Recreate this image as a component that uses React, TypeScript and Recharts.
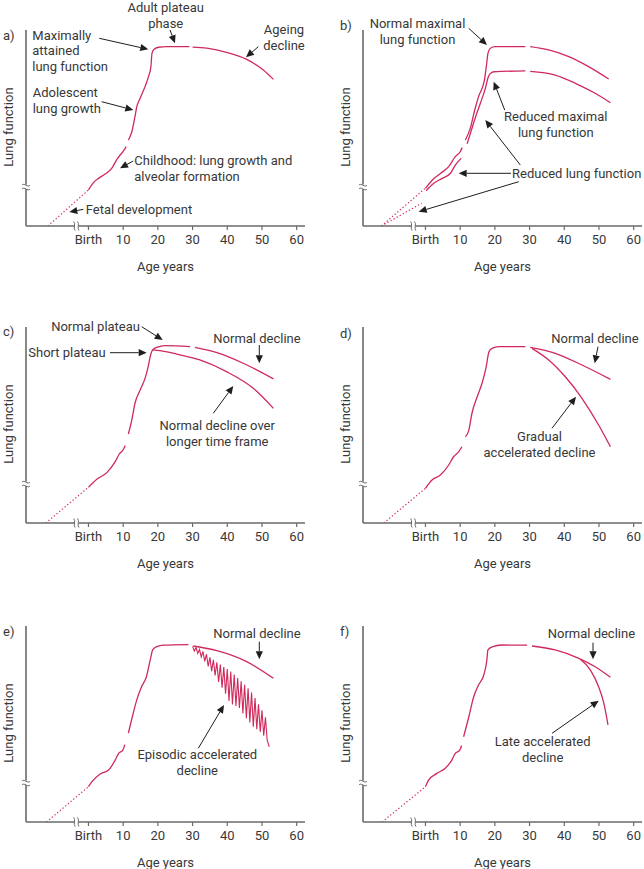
import React from 'react';
import { LineChart, Line, XAxis, YAxis, ReferenceLine, ReferenceDot } from 'recharts';

// ---------- tick labels ----------
const AGE_TICKS = [0, 10, 20, 30, 40, 50, 60];
const TICK_LABELS = ['Birth', '10', '20', '30', '40', '50', '60'];

// ---------- series values [age, lung function] ----------
// a)
const fetalA = [[-11.7, 0], [0, 18.4]];
const growthA = [[0, 18.4], [1.45, 22.1], [2.9, 24.3], [4.8, 26.5], [6.7, 29.4], [8.2, 34.0], [8.9, 35.7], [10.3, 38.8], [10.85, 40.5]];
const teenA = [[11.5, 43.9], [12.5, 48.1], [13.4, 55.8], [13.9, 60.6], [14.9, 65.2], [16.3, 71.1], [17.3, 76.2], [18.0, 81.3], [18.3, 88.1], [18.9, 90.2], [20.2, 91.2], [22.6, 91.5], [29.1, 91.5]];
const declineA = [[30.0, 91.3], [34.1, 90.7], [39.8, 88.6], [45.6, 85.0], [50.4, 79.6], [53.3, 74.8]];

// b)
const fetalB1 = [[-12.7, 0], [-0.1, 19.2]];
const fetalB2 = [[-12.7, 0], [-1.1, 11.6]];
const growthB1 = [[0, 19.2], [2.0, 23.5], [4.4, 26.9], [6.7, 30.3], [8.6, 35.4], [10.0, 37.9], [10.6, 40.0]];
const teenB1 = [[11.5, 43.9], [12.9, 49.8], [14.2, 59.2], [15.3, 66.0], [17.0, 74.5], [17.7, 83.8], [18.0, 88.1], [18.7, 90.7], [20.1, 91.5], [28.8, 91.5]];
const declineB1 = [[30.2, 91.5], [35.5, 89.8], [41.3, 86.4], [47.0, 81.3], [52.8, 75.0]];
const growthB2 = [[0.2, 18.0], [2.4, 21.8], [4.8, 24.3], [7.2, 26.9], [8.6, 31.1], [10.3, 34.5]];
const teenB2 = [[12.0, 42.0], [13.0, 47.5], [14.4, 55.5], [15.8, 62.5], [17.3, 70.5], [18.0, 75.5], [18.6, 77.6], [19.7, 78.7], [28.8, 79.1]];
const declineB2 = [[30.2, 78.9], [37.4, 77.0], [43.2, 72.8], [48.9, 67.7], [53.3, 62.9]];

// c)
const fetalC = [[-12.3, 0], [0, 18.2]];
const growthC = [[0, 18.2], [2.4, 22.3], [5.3, 25.7], [7.7, 31.3], [8.9, 35.2], [10.1, 37.6], [10.6, 39.5]];
const teenC = [[11.5, 45.4], [12.5, 52.6], [13.4, 61.1], [14.9, 67.9], [16.3, 73.8], [17.2, 79.7], [17.9, 85.7], [18.5, 88.3], [19.7, 89.6], [22.1, 90.5], [29.3, 90.0]];
const declineC = [[30.7, 89.6], [37.0, 86.9], [44.6, 81.5], [53.3, 73.5]];
const shortC = [[18.5, 88.3], [20.6, 87.9], [25.4, 86.2], [32.1, 83.2], [39.8, 77.2], [47.5, 68.7], [53.3, 58.5]];

// d)
const fetalD = [[-12.0, 0], [0, 17.7]];
const growthD = [[0, 17.7], [1.9, 21.9], [4.3, 24.5], [6.7, 29.6], [8.1, 33.8], [9.6, 36.4], [10.5, 38.9]];
const teenD = [[11.5, 44.0], [12.5, 47.4], [13.4, 56.0], [14.9, 64.4], [16.3, 71.3], [17.5, 79.7], [18.3, 87.4], [19.2, 89.1], [21.1, 90.0], [28.8, 90.0]];
const declineD = [[30.2, 89.6], [37.4, 86.6], [45.1, 80.6], [53.3, 73.3]];
const accelD = [[30.7, 89.1], [35.5, 83.2], [40.3, 74.6], [45.1, 63.6], [49.9, 50.0], [53.3, 38.9]];

// e)
const fetalE = [[-12.1, 0], [0, 18.0]];
const growthE = [[0, 18.0], [1.0, 20.6], [3.4, 24.5], [5.8, 26.5], [7.7, 31.6], [8.7, 35.0], [9.9, 36.7], [10.5, 39.5]];
const teenE = [[11.5, 45.3], [12.9, 55.5], [13.9, 62.2], [15.3, 69.0], [16.7, 74.1], [17.9, 83.5], [18.5, 87.8], [19.7, 89.5], [21.6, 90.2], [28.8, 90.5]];
const declineE = [[30.2, 89.8], [37.0, 87.4], [45.6, 81.8], [53.3, 73.3]];
const episodicE = [
  [30.0, 89.6], [30.5, 87.2], [31.0, 89.0], [31.5, 86.0], [32.0, 88.0], [32.5, 84.2], [33.0, 87.0], [33.5, 82.0],
  [34.0, 85.6], [34.5, 79.4], [35.0, 84.0], [35.5, 77.0], [36.0, 82.8], [36.5, 74.8], [37.0, 81.5], [37.5, 71.4],
  [38.0, 80.3], [38.5, 68.5], [39.0, 79.0], [39.5, 65.4], [40.0, 78.0], [40.5, 61.8], [41.0, 76.8], [41.5, 60.0],
  [42.0, 75.3], [42.5, 59.2], [43.0, 73.5], [43.5, 58.2], [44.0, 71.8], [44.5, 55.4], [45.0, 70.0], [45.5, 53.0],
  [46.0, 68.2], [46.5, 50.8], [47.0, 66.0], [47.5, 48.6], [48.0, 63.2], [48.5, 47.4], [49.0, 60.0], [49.5, 46.0],
  [50.0, 57.0], [50.5, 44.0], [51.0, 53.4], [51.5, 41.8], [52.1, 38.4],
];

// f)
const fetalF = [[-12.5, 0], [0, 18.0]];
const growthF = [[0, 18.0], [0.9, 21.4], [3.3, 24.8], [5.7, 27.4], [7.6, 31.6], [8.6, 35.0], [9.9, 36.7], [10.4, 39.0]];
const teenF = [[11.0, 43.5], [12.5, 53.7], [13.9, 63.9], [15.3, 69.9], [16.8, 75.0], [17.7, 82.7], [18.0, 87.8], [19.2, 89.4], [22.1, 90.3], [29.3, 90.2]];
const declineF = [[30.7, 89.8], [37.4, 87.8], [44.2, 83.5], [48.9, 79.2], [53.3, 73.8]];
const lateF = [[44.6, 83.0], [47.5, 77.6], [49.9, 69.0], [51.4, 60.6], [52.6, 49.5]];

// ---------- annotation texts ----------
type Note = { x: number; y: number; lines: string[]; anchor: 'start' | 'middle' | 'end' };
type Arrow = [number, number, number, number];

const notesA: Note[] = [
  { x: 32.3, y: 35, lines: ['Maximally', 'attained', 'lung function'], anchor: 'start' },
  { x: 165.7, y: 7.3, lines: ['Adult plateau', 'phase'], anchor: 'middle' },
  { x: 284, y: 29.3, lines: ['Ageing', 'decline'], anchor: 'middle' },
  { x: 32.7, y: 92.7, lines: ['Adolescent', 'lung growth'], anchor: 'start' },
  { x: 134.3, y: 160.7, lines: ['Childhood: lung growth and', 'alveolar formation'], anchor: 'start' },
  { x: 85.7, y: 209.3, lines: ['Fetal development'], anchor: 'start' },
];
const arrowsA: Arrow[] = [
  [99.3, 38.3, 148.3, 49.3], [170, 30, 175, 43.3], [258.3, 46.7, 246, 57.3],
  [101.7, 101.7, 133.3, 110], [133.3, 161, 120, 168.3], [83.3, 209.3, 69.3, 212],
];
const notesB: Note[] = [
  { x: 80.5, y: 23.3, lines: ['Normal maximal', 'lung function'], anchor: 'middle' },
  { x: 218.8, y: 116.7, lines: ['Reduced maximal', 'lung function'], anchor: 'middle' },
  { x: 175, y: 173.3, lines: ['Reduced lung function'], anchor: 'start' },
];
const arrowsB: Arrow[] = [
  [131.7, 28.3, 150, 45], [167.7, 110, 156.7, 81.7], [174, 173.3, 121.7, 173.3],
  [183.3, 165, 148.3, 120], [181.7, 181.7, 81.7, 211.7],
];
const notesC: Note[] = [
  { x: 140, y: 29.7, lines: ['Normal plateau'], anchor: 'end' },
  { x: 28.3, y: 55.7, lines: ['Short plateau'], anchor: 'start' },
  { x: 213.3, y: 41.3, lines: ['Normal decline'], anchor: 'start' },
  { x: 217.2, y: 128.7, lines: ['Normal decline over', 'longer time frame'], anchor: 'middle' },
];
const arrowsC: Arrow[] = [
  [141.7, 29.7, 162.7, 43], [110, 55.7, 146.7, 55.7], [259.3, 48, 259.3, 66.3], [213.3, 116.3, 233.3, 89],
];
const notesD: Note[] = [
  { x: 214.3, y: 41.3, lines: ['Normal decline'], anchor: 'start' },
  { x: 202.5, y: 139.7, lines: ['Gradual', 'accelerated decline'], anchor: 'middle' },
];
const arrowsD: Arrow[] = [[261, 49.7, 257.7, 66.3], [215, 131.3, 239, 99.7]];
const notesE: Note[] = [
  { x: 213.3, y: 37.3, lines: ['Normal decline'], anchor: 'start' },
  { x: 197.3, y: 158.3, lines: ['Episodic accelerated', 'decline'], anchor: 'middle' },
];
const arrowsE: Arrow[] = [[259.3, 45.7, 259.3, 63.3], [198.3, 152.3, 224, 109]];
const notesF: Note[] = [
  { x: 210.7, y: 37.3, lines: ['Normal decline'], anchor: 'start' },
  { x: 205.7, y: 145.7, lines: ['Late accelerated', 'decline'], anchor: 'middle' },
];
const arrowsF: Arrow[] = [[256, 46.7, 256, 63.3], [215, 137.3, 261.7, 104.7]];

// ---------- styles / geometry ----------
const RED = '#d02a5c';
const AXIS = '#6a6a6a';
const TEXT = '#383838';
const ARROW = '#1e1e1e';
const FONT = 'Roboto, "DejaVu Sans", sans-serif';
const FS = 13;
const LINE_GAP = 15.7;

const W = 307;
const H = 298;
const YW = 26;
const XH = 72;
const MARGIN = { top: 30, right: 2, bottom: 0, left: 0 };
const PLOT = { left: 26, top: 30, width: 279, height: 196 };
const X_DOMAIN: [number, number] = [-18, 62.4];
const Y_DOMAIN: [number, number] = [0, 100];

const px2age = (px: number) => X_DOMAIN[0] + ((px - PLOT.left) * (X_DOMAIN[1] - X_DOMAIN[0])) / PLOT.width;
const py2val = (py: number) => Y_DOMAIN[1] - ((py - PLOT.top) * (Y_DOMAIN[1] - Y_DOMAIN[0])) / PLOT.height;

const toPts = (arr: number[][]) => arr.map(([age, v]) => ({ age, v }));

type Series = { data: number[][]; dashed?: boolean; linear?: boolean; width?: number };

const renderSeries = (s: Series, i: number) => (
  <Line
    key={'s' + i}
    data={toPts(s.data)}
    dataKey="v"
    type={s.linear ? 'linear' : 'monotoneX'}
    stroke={RED}
    strokeWidth={s.width ?? (s.dashed ? 1.2 : 1.3)}
    strokeDasharray={s.dashed ? '1.3 2.2' : undefined}
    dot={false}
    activeDot={false}
    isAnimationActive={false}
  />
);

const renderNote = (n: Note, i: number) => (
  <ReferenceDot
    key={'n' + i}
    x={px2age(n.x)}
    y={py2val(n.y)}
    ifOverflow="visible"
    shape={(p: any) => (
      <text x={p.cx} y={p.cy} textAnchor={n.anchor} fontFamily={FONT} fontSize={FS} fill={TEXT}>
        {n.lines.map((l, k) => (
          <tspan key={k} x={p.cx} dy={k === 0 ? '0.36em' : LINE_GAP}>
            {l}
          </tspan>
        ))}
      </text>
    )}
  />
);

const arrowShape = (p: any) => {
  const { x1, y1, x2, y2 } = p;
  const dx = x2 - x1;
  const dy = y2 - y1;
  const len = Math.hypot(dx, dy) || 1;
  const ux = dx / len;
  const uy = dy / len;
  const hl = 8;
  const hw = 3.6;
  const bx = x2 - ux * hl;
  const by = y2 - uy * hl;
  return (
    <g>
      <line x1={x1} y1={y1} x2={bx} y2={by} stroke={ARROW} strokeWidth={1} />
      <polygon points={`${x2},${y2} ${bx - uy * hw},${by + ux * hw} ${bx + uy * hw},${by - ux * hw}`} fill={ARROW} />
    </g>
  );
};

const renderArrow = (a: Arrow, i: number) => (
  <ReferenceLine
    key={'a' + i}
    segment={[
      { x: px2age(a[0]), y: py2val(a[1]) },
      { x: px2age(a[2]), y: py2val(a[3]) },
    ]}
    ifOverflow="visible"
    shape={arrowShape}
  />
);

const yBreak = (p: any) => {
  const { cx, cy } = p;
  return (
    <g>
      <rect x={cx - 3} y={cy - 2.2} width={6} height={4.4} fill="#fff" />
      <path d={`M${cx - 4},${cy - 1.6} C${cx - 2},${cy - 4.6} ${cx + 2},${cy + 1.4} ${cx + 4},${cy - 1.6}`} stroke={AXIS} strokeWidth={1} fill="none" />
      <path d={`M${cx - 4},${cy + 2.2} C${cx - 2},${cy - 0.8} ${cx + 2},${cy + 5.2} ${cx + 4},${cy + 2.2}`} stroke={AXIS} strokeWidth={1} fill="none" />
    </g>
  );
};

const xBreak = (p: any) => {
  const { cx, cy } = p;
  return (
    <g>
      <rect x={cx - 2.2} y={cy - 3} width={4.4} height={6} fill="#fff" />
      <path d={`M${cx - 2.6},${cy - 4.5} C${cx - 0.2},${cy - 2} ${cx - 3.4},${cy + 2} ${cx - 1.2},${cy + 4.5}`} stroke={AXIS} strokeWidth={1} fill="none" />
      <path d={`M${cx + 1.2},${cy - 4.5} C${cx + 3.6},${cy - 2} ${cx + 0.4},${cy + 2} ${cx + 2.6},${cy + 4.5}`} stroke={AXIS} strokeWidth={1} fill="none" />
    </g>
  );
};

type PanelCfg = {
  letter: string;
  letterY: number;
  left: number;
  top: number;
  series: Series[];
  notes: Note[];
  arrows: Arrow[];
};

const ageLabel = () => (
  <text x={PLOT.left + PLOT.width / 2} y={PLOT.top + PLOT.height + 44.5} textAnchor="middle" fontFamily={FONT} fontSize={FS} fill={TEXT}>
    Age years
  </text>
);
const lungLabel = () => (
  <text
    x={8.5}
    y={PLOT.top + PLOT.height / 2 - 1}
    transform={`rotate(-90, 8.5, ${PLOT.top + PLOT.height / 2 - 1})`}
    textAnchor="middle"
    dominantBaseline="central"
    fontFamily={FONT}
    fontSize={FS}
    fill={TEXT}
  >
    Lung function
  </text>
);

const Panel = (cfg: PanelCfg) => (
  <div style={{ position: 'absolute', left: cfg.left, top: cfg.top, width: W, height: H }}>
    <LineChart width={W} height={H} margin={MARGIN}>
      <XAxis
        type="number"
        dataKey="age"
        domain={X_DOMAIN}
        allowDataOverflow
        ticks={AGE_TICKS}
        interval={0}
        tickFormatter={(t: number) => TICK_LABELS[AGE_TICKS.indexOf(t)] ?? String(t)}
        tick={{ fontSize: FS, fill: TEXT, fontFamily: FONT }}
        tickLine={{ stroke: AXIS, strokeWidth: 1.2 }}
        tickSize={4}
        tickMargin={5}
        axisLine={{ stroke: AXIS, strokeWidth: 1.6 }}
        height={XH}
        label={ageLabel}
      />
      <YAxis
        type="number"
        domain={Y_DOMAIN}
        allowDataOverflow
        width={YW}
        tick={false}
        tickLine={false}
        axisLine={{ stroke: AXIS, strokeWidth: 1.6 }}
        label={lungLabel}
      />
      {cfg.series.map(renderSeries)}
      <ReferenceDot x={X_DOMAIN[0]} y={20} ifOverflow="visible" shape={yBreak} />
      <ReferenceDot x={-3.5} y={0} ifOverflow="visible" shape={xBreak} />
      <ReferenceDot
        x={px2age(3)}
        y={py2val(cfg.letterY)}
        ifOverflow="visible"
        shape={(p: any) => (
          <text x={p.cx} y={p.cy} dy="0.36em" fontFamily={FONT} fontSize={FS} fill={TEXT}>
            {cfg.letter}
          </text>
        )}
      />
      {cfg.notes.map(renderNote)}
      {cfg.arrows.map(renderArrow)}
    </LineChart>
  </div>
);

const PANELS: PanelCfg[] = [
  {
    letter: 'a)', letterY: 35, left: 0, top: 0,
    series: [{ data: fetalA, dashed: true }, { data: growthA }, { data: teenA }, { data: declineA }],
    notes: notesA, arrows: arrowsA,
  },
  {
    letter: 'b)', letterY: 25, left: 337, top: 0,
    series: [
      { data: fetalB1, dashed: true }, { data: fetalB2, dashed: true },
      { data: growthB1 }, { data: teenB1 }, { data: declineB1 },
      { data: growthB2 }, { data: teenB2 }, { data: declineB2 },
    ],
    notes: notesB, arrows: arrowsB,
  },
  {
    letter: 'c)', letterY: 34.7, left: 0, top: 297,
    series: [{ data: fetalC, dashed: true }, { data: growthC }, { data: teenC }, { data: declineC }, { data: shortC }],
    notes: notesC, arrows: arrowsC,
  },
  {
    letter: 'd)', letterY: 36.3, left: 337, top: 297,
    series: [{ data: fetalD, dashed: true }, { data: growthD }, { data: teenD }, { data: declineD }, { data: accelD }],
    notes: notesD, arrows: arrowsD,
  },
  {
    letter: 'e)', letterY: 35.7, left: 0, top: 596,
    series: [
      { data: fetalE, dashed: true }, { data: growthE }, { data: teenE }, { data: declineE },
      { data: episodicE, linear: true, width: 1.1 },
    ],
    notes: notesE, arrows: arrowsE,
  },
  {
    letter: 'f)', letterY: 35.7, left: 337, top: 596,
    series: [{ data: fetalF, dashed: true }, { data: growthF }, { data: teenF }, { data: declineF }, { data: lateF }],
    notes: notesF, arrows: arrowsF,
  },
];

export default function App() {
  return (
    <div style={{ position: 'absolute', left: 0, top: 0, width: 644, height: 869, background: '#fff', overflow: 'hidden' }}>
      {PANELS.map((p, i) => (
        <Panel key={i} {...p} />
      ))}
    </div>
  );
}
